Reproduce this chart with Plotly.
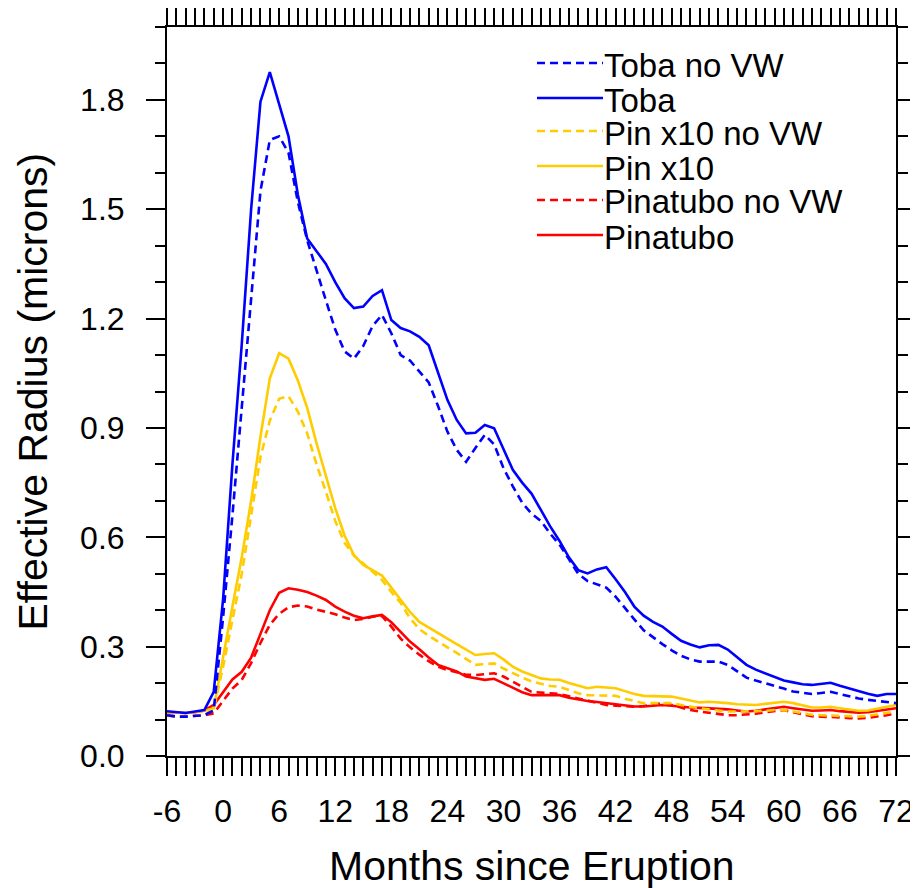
import plotly.graph_objects as go

# months since eruption
months = list(range(-6, 73))

x_tick_vals = list(range(-6, 73, 6))
x_tick_text = [str(v) for v in x_tick_vals]

toba_novw = [0.112, 0.108, 0.108, 0.110, 0.112, 0.125, 0.38, 0.66, 0.95, 1.25,
             1.55, 1.69, 1.70, 1.655, 1.52, 1.415, 1.33, 1.25, 1.17, 1.11,
             1.09, 1.125, 1.18, 1.21, 1.16, 1.10, 1.085, 1.055, 1.025, 0.96,
             0.89, 0.84, 0.807, 0.845, 0.881, 0.855, 0.79, 0.74, 0.695, 0.665,
             0.645, 0.61, 0.58, 0.54, 0.50, 0.48, 0.472, 0.462, 0.437, 0.405,
             0.375, 0.345, 0.325, 0.307, 0.29, 0.275, 0.265, 0.259, 0.259, 0.259,
             0.25, 0.232, 0.215, 0.207, 0.20, 0.194, 0.185, 0.177, 0.173, 0.17,
             0.173, 0.176, 0.17, 0.163, 0.158, 0.154, 0.151, 0.148, 0.145]

toba = [0.123, 0.120, 0.118, 0.122, 0.126, 0.176, 0.43, 0.80, 1.13, 1.50,
        1.795, 1.876, 1.79, 1.70, 1.54, 1.42, 1.385, 1.35, 1.30, 1.256,
        1.229, 1.233, 1.262, 1.278, 1.196, 1.174, 1.165, 1.15, 1.127, 1.05,
        0.977, 0.922, 0.885, 0.887, 0.908, 0.899, 0.84, 0.785, 0.75, 0.72,
        0.675, 0.63, 0.59, 0.545, 0.51, 0.501, 0.512, 0.518, 0.485, 0.45,
        0.41, 0.385, 0.368, 0.355, 0.335, 0.316, 0.306, 0.298, 0.304, 0.305,
        0.292, 0.27, 0.25, 0.237, 0.227, 0.217, 0.207, 0.202, 0.197, 0.195,
        0.198, 0.201, 0.193, 0.185, 0.178, 0.171, 0.165, 0.17, 0.17]

pin10_novw = [0.112, 0.108, 0.108, 0.110, 0.112, 0.128, 0.245, 0.373, 0.50, 0.66,
              0.82, 0.92, 0.98, 0.987, 0.945, 0.885, 0.80, 0.725, 0.645, 0.585,
              0.55, 0.528, 0.505, 0.483, 0.45, 0.42, 0.378, 0.348, 0.33, 0.313,
              0.298, 0.283, 0.266, 0.25, 0.252, 0.254, 0.24, 0.227, 0.215, 0.205,
              0.198, 0.192, 0.19, 0.18, 0.172, 0.167, 0.166, 0.165, 0.165, 0.157,
              0.15, 0.145, 0.145, 0.145, 0.145, 0.14, 0.135, 0.131, 0.128, 0.125,
              0.122, 0.122, 0.122, 0.122, 0.124, 0.126, 0.126, 0.122, 0.117, 0.113,
              0.112, 0.111, 0.11, 0.109, 0.108, 0.11, 0.114, 0.118, 0.122]

pin10 = [0.12, 0.118, 0.118, 0.12, 0.124, 0.131, 0.274, 0.41, 0.545, 0.70,
         0.876, 1.036, 1.105, 1.09, 1.03, 0.955, 0.858, 0.77, 0.68, 0.605,
         0.551, 0.524, 0.51, 0.495, 0.462, 0.43, 0.395, 0.368, 0.352, 0.337,
         0.322, 0.307, 0.292, 0.277, 0.28, 0.282, 0.265, 0.245, 0.232, 0.222,
         0.213, 0.21, 0.209, 0.2, 0.192, 0.186, 0.19, 0.188, 0.186, 0.178,
         0.17, 0.165, 0.164, 0.163, 0.163, 0.158, 0.152, 0.147, 0.149, 0.148,
         0.145, 0.142, 0.14, 0.14, 0.143, 0.146, 0.149, 0.145, 0.14, 0.133,
         0.133, 0.135, 0.131, 0.127, 0.124, 0.125, 0.13, 0.135, 0.14]

pina_novw = [0.112, 0.108, 0.108, 0.11, 0.112, 0.117, 0.15, 0.185, 0.209, 0.255,
             0.31, 0.36, 0.39, 0.408, 0.413, 0.41, 0.402, 0.396, 0.389, 0.38,
             0.373, 0.376, 0.382, 0.384, 0.355, 0.322, 0.298, 0.278, 0.26, 0.245,
             0.236, 0.23, 0.223, 0.222, 0.225, 0.227, 0.218, 0.205, 0.19, 0.176,
             0.173, 0.172, 0.17, 0.163, 0.158, 0.152, 0.145, 0.14, 0.138, 0.136,
             0.135, 0.137, 0.141, 0.145, 0.14, 0.133, 0.126, 0.122, 0.118, 0.114,
             0.112, 0.112, 0.113, 0.116, 0.12, 0.124, 0.126, 0.12, 0.114, 0.109,
             0.108, 0.108, 0.106, 0.104, 0.103, 0.105, 0.108, 0.112, 0.117]

pina = [0.12, 0.118, 0.118, 0.12, 0.125, 0.14, 0.176, 0.21, 0.231, 0.27,
        0.335, 0.40, 0.448, 0.46, 0.456, 0.45, 0.44, 0.428, 0.41, 0.396,
        0.385, 0.378, 0.383, 0.387, 0.367, 0.34, 0.314, 0.293, 0.27, 0.25,
        0.242, 0.232, 0.218, 0.213, 0.209, 0.212, 0.2, 0.188, 0.175, 0.167,
        0.167, 0.167, 0.167, 0.16, 0.155, 0.151, 0.148, 0.145, 0.142, 0.139,
        0.136, 0.136, 0.138, 0.14, 0.138, 0.135, 0.133, 0.132, 0.131, 0.13,
        0.128, 0.125, 0.122, 0.124, 0.128, 0.132, 0.135, 0.131, 0.127, 0.124,
        0.125, 0.126, 0.123, 0.12, 0.119, 0.12, 0.123, 0.127, 0.131]

names = ["Toba no VW", "Toba", "Pin x10 no VW", "Pin x10", "Pinatubo no VW", "Pinatubo"]
series = [toba_novw, toba, pin10_novw, pin10, pina_novw, pina]
colors = ["#0000FF", "#0000FF", "#FFCC00", "#FFCC00", "#FF0000", "#FF0000"]
dashes = ["8px,5px", "solid", "8px,5px", "solid", "8px,5px", "solid"]

FONT = "Liberation Sans, Arial, Helvetica, sans-serif"
# the page body has an 8px margin, so the figure is 8px smaller than the window
W, H = 910, 880
L, R, T, B = 159, 22, 19, 132
pw, ph = W - L - R, H - T - B
# page pixel -> paper coordinate (plot area spans page x 167..896, y 27..756)
px2x = lambda p: (p - 167) / pw
py2y = lambda p: (756 - p) / ph

fig = go.Figure()
# draw bottom-up so Toba lines sit on top
for name, y, c, d in list(zip(names, series, colors, dashes))[::-1]:
    fig.add_trace(go.Scatter(x=months, y=y, mode="lines", name=name,
                             line=dict(color=c, width=2.6, dash=d),
                             showlegend=False))

# hand-made legend (long line samples like the original)
row_px = [63, 98, 131, 166, 200, 235]
for name, c, d, py in zip(names, colors, dashes, row_px):
    fig.add_shape(type="line", xref="paper", yref="paper",
                  x0=px2x(537), x1=px2x(603), y0=py2y(py), y1=py2y(py),
                  line=dict(color=c, width=2.6, dash=d))
    fig.add_annotation(text=name, xref="paper", yref="paper",
                       x=px2x(602), y=py2y(py), xanchor="left", yanchor="middle",
                       showarrow=False, font=dict(size=33, color="black", family=FONT),
                       yshift=-2)

# axis titles
fig.add_annotation(text="Months since Eruption", xref="paper", yref="paper",
                   x=0.5, y=py2y(866), xanchor="center", yanchor="middle",
                   showarrow=False, font=dict(size=41, color="black", family=FONT))
fig.add_annotation(text="Effective Radius (microns)", xref="paper", yref="paper",
                   x=px2x(32), y=0.5, xanchor="center", yanchor="middle",
                   textangle=-90, showarrow=False,
                   font=dict(size=41, color="black", family=FONT))

axis_common = dict(showline=True, linecolor="black", linewidth=2, mirror="allticks",
                   ticks="outside", tickcolor="black", tickwidth=2,
                   showgrid=False, zeroline=False, automargin=False,
                   tickfont=dict(size=32, color="black", family=FONT))

fig.update_xaxes(range=[-6, 72], tickmode="array", tickvals=x_tick_vals,
                 ticktext=x_tick_text, ticklen=18,
                 minor=dict(dtick=1, tick0=0, ticks="outside", ticklen=18,
                            tickcolor="black", tickwidth=2, showgrid=False),
                 ticklabelstandoff=8,
                 **axis_common)
fig.update_yaxes(range=[0, 2.0], tick0=0, dtick=0.3, tickformat=".1f", ticklen=19,
                 minor=dict(dtick=0.1, ticks="outside", ticklen=10, tickcolor="black",
                            tickwidth=2, showgrid=False),
                 ticklabelstandoff=15,
                 **axis_common)

fig.update_layout(width=W, height=H, margin=dict(l=L, r=R, t=T, b=B),
                  plot_bgcolor="white", paper_bgcolor="white",
                  font=dict(family=FONT, color="black"))

fig.write_html("out.html")
